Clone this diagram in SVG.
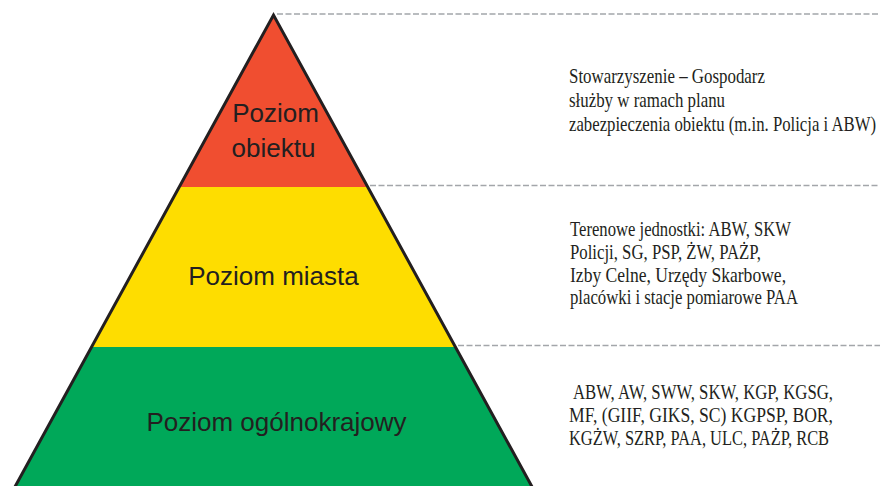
<svg xmlns="http://www.w3.org/2000/svg" width="880" height="486" viewBox="0 0 880 486">
<style>
.lvl{font-family:"Liberation Sans",Arial,sans-serif;font-size:26px;fill:#231f20;text-anchor:middle}
.desc{font-family:"Liberation Serif","Times New Roman",serif;font-size:20px;fill:#231f20}
.dash{stroke:#a3a6aa;stroke-width:1.4;stroke-dasharray:6 2.5;fill:none}
.edge{stroke:#231f20;stroke-width:3;fill:none;stroke-linejoin:miter}
</style>
<rect width="880" height="486" fill="#ffffff"/>
<g id="level-obiekt">
<polygon points="273.5,15 179.2,187 367.8,187" fill="#f04e30"/>
<text class="lvl" x="275.5" y="122">Poziom</text>
<text class="lvl" x="273.5" y="157">obiektu</text>
</g>
<g id="level-miasto">
<polygon points="179.2,187 367.8,187 455.4,347 91.6,347" fill="#fedd00"/>
<text class="lvl" x="273.5" y="285">Poziom miasta</text>
</g>
<g id="level-kraj">
<polygon points="91.6,347 455.4,347 533.8,490 13.2,490" fill="#00a859"/>
<text class="lvl" x="276.5" y="431">Poziom ogólnokrajowy</text>
</g>
<g id="outline">
<polyline class="edge" points="13.2,490 273.5,15 533.8,490"/>
</g>
<g id="connectors">
<line class="dash" x1="277" y1="14" x2="880" y2="14"/>
<line class="dash" x1="370" y1="185.5" x2="880" y2="185.5"/>
<line class="dash" x1="458" y1="345.5" x2="880" y2="345.5"/>
</g>
<g id="desc-obiekt" transform="translate(569,0) scale(0.88,1)">
<text class="desc" x="0" y="83" textLength="222.7" lengthAdjust="spacingAndGlyphs">Stowarzyszenie – Gospodarz</text>
<text class="desc" x="0" y="107" textLength="177.3" lengthAdjust="spacingAndGlyphs">służby w ramach planu</text>
<text class="desc" x="0" y="131" textLength="348.9" lengthAdjust="spacingAndGlyphs">zabezpieczenia obiektu (m.in. Policja i ABW)</text>
</g>
<g id="desc-miasto" transform="translate(570,0) scale(0.88,1)">
<text class="desc" x="0" y="236" textLength="251.1" lengthAdjust="spacingAndGlyphs">Terenowe jednostki: ABW, SKW</text>
<text class="desc" x="0" y="259" textLength="217" lengthAdjust="spacingAndGlyphs">Policji, SG, PSP, ŻW, PAŻP,</text>
<text class="desc" x="0" y="282" textLength="245.5" lengthAdjust="spacingAndGlyphs">Izby Celne, Urzędy Skarbowe,</text>
<text class="desc" x="0" y="304" textLength="259.1" lengthAdjust="spacingAndGlyphs">placówki i stacje pomiarowe PAA</text>
</g>
<g id="desc-kraj" transform="translate(569,0) scale(0.88,1)">
<text class="desc" x="4.5" y="399" textLength="295.5" lengthAdjust="spacingAndGlyphs">ABW, AW, SWW, SKW, KGP, KGSG,</text>
<text class="desc" x="0" y="422" textLength="300" lengthAdjust="spacingAndGlyphs">MF, (GIIF, GIKS, SC) KGPSP, BOR,</text>
<text class="desc" x="0" y="445" textLength="295.5" lengthAdjust="spacingAndGlyphs">KGŻW, SZRP, PAA, ULC, PAŻP, RCB</text>
</g>
</svg>
